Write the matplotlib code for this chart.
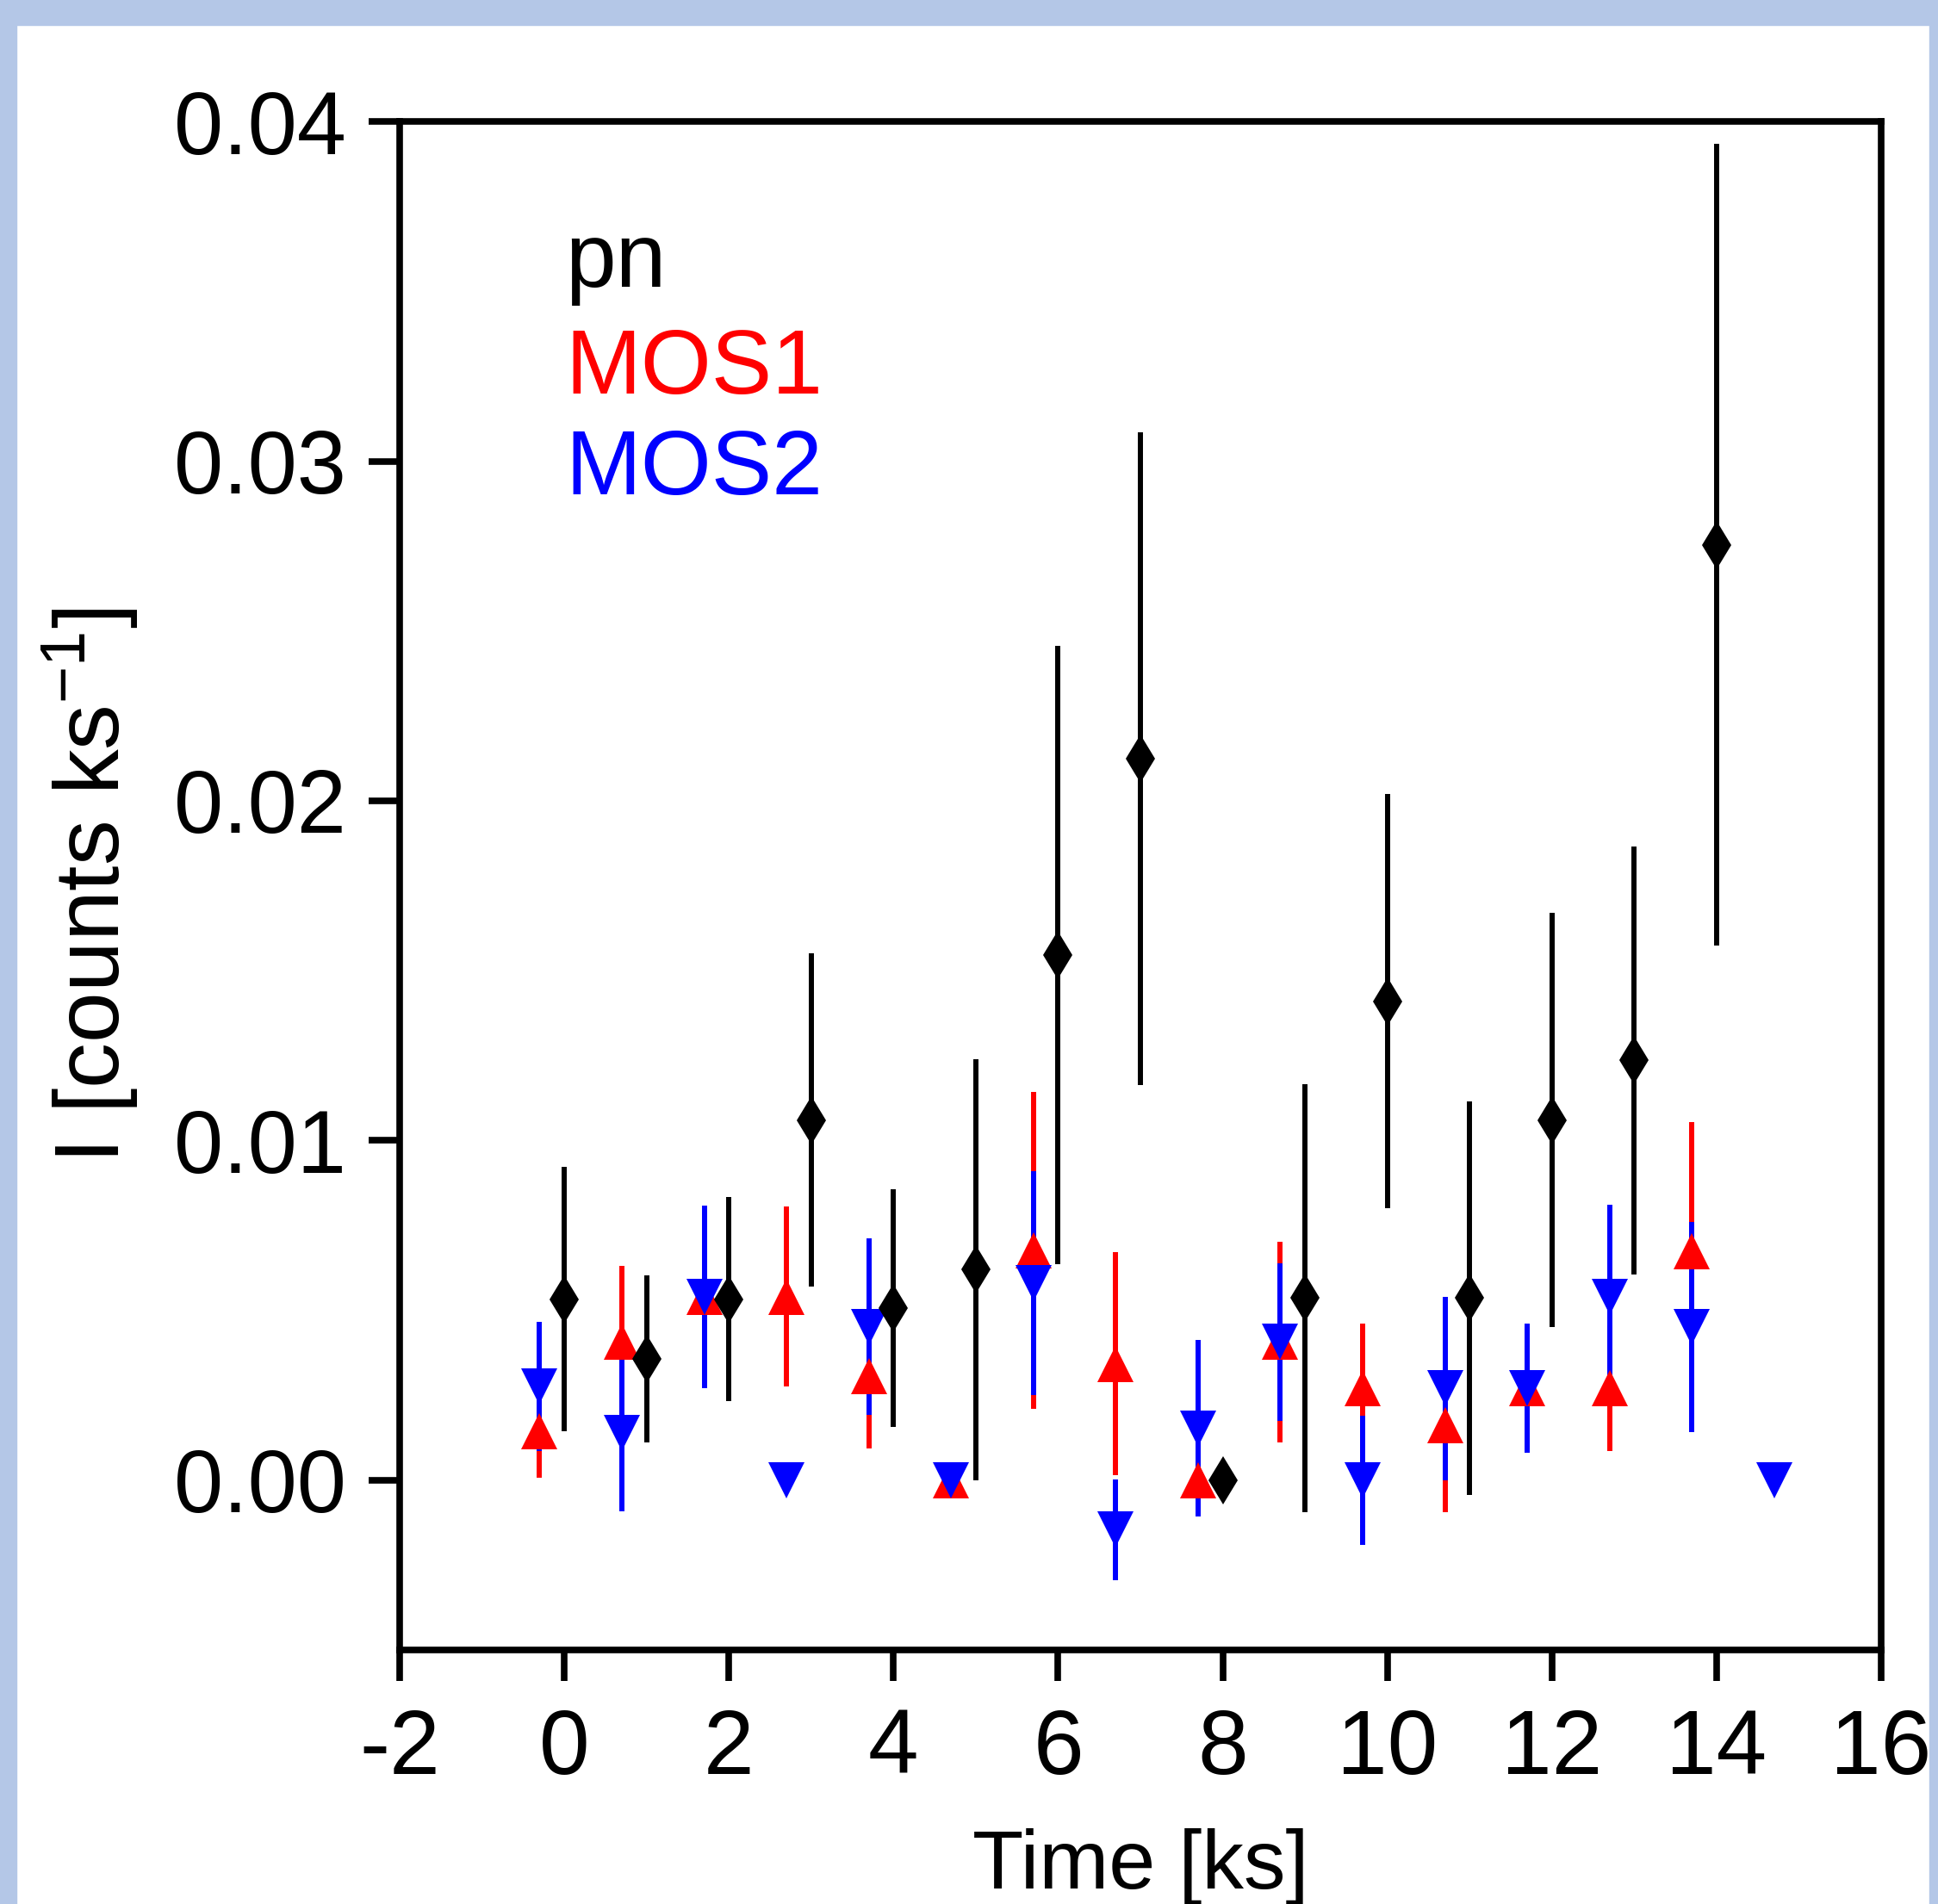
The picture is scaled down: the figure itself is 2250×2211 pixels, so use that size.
import numpy as np
import matplotlib
matplotlib.use("Agg")
import matplotlib.pyplot as plt
from matplotlib.patches import Rectangle

plt.rcParams['font.family'] = ['Liberation Sans', 'DejaVu Sans']
plt.rcParams['mathtext.fontset'] = 'custom'
plt.rcParams['mathtext.rm'] = 'Liberation Sans'
plt.rcParams['mathtext.default'] = 'regular'

# pn (black diamonds)
pn_t = [0, 1, 2, 3, 4, 5, 6, 7, 8, 9, 10, 11, 12, 13, 14]
pn_y = [0.00533, 0.00357, 0.00533, 0.0106, 0.00507, 0.0062, 0.01545, 0.02124,
        0.0, 0.00536, 0.0141, 0.00536, 0.0106, 0.01236, 0.02753]
pn_err = [0.0039, 0.00247, 0.0030, 0.0049, 0.0035, 0.0062, 0.0091, 0.0096,
          0.0, 0.0063, 0.0061, 0.0058, 0.0061, 0.0063, 0.0118]

# MOS1 (red up triangles)
mos1_t = [-0.3, 0.7, 1.7, 2.7, 3.7, 4.7, 5.7, 6.7, 7.7, 8.7, 9.7, 10.7, 11.7, 12.7, 13.7]
mos1_y = [0.00145, 0.00407, 0.0054, 0.0054, 0.00307, 0.0, 0.00676, 0.00343,
          0.0, 0.00407, 0.0027, 0.00161, 0.0027, 0.0027, 0.00673]
mos1_err = [0.00138, 0.00225, 0.0025, 0.00265, 0.00214, 0.0, 0.00467, 0.00328,
            0.0, 0.00295, 0.0019, 0.00255, 0.0018, 0.00185, 0.0038]

# MOS2 (blue down triangles)
mos2_t = [-0.3, 0.7, 1.7, 2.7, 3.7, 4.7, 5.7, 6.7, 7.7, 8.7, 9.7, 10.7, 11.7, 12.7, 13.7, 14.7]
mos2_y = [0.00275, 0.00138, 0.0054, 0.0, 0.00451, 0.0, 0.0058, -0.00146,
          0.00152, 0.00407, 0.0, 0.0027, 0.0027, 0.0054, 0.00451, 0.0]
mos2_err = [0.0019, 0.0023, 0.00268, 0.0, 0.0026, 0.0, 0.0033, 0.00148,
            0.0026, 0.00232, 0.0019, 0.0027, 0.0019, 0.0027, 0.0031, 0.0]

xticks = [-2, 0, 2, 4, 6, 8, 10, 12, 14, 16]
yticks = [0.0, 0.01, 0.02, 0.03, 0.04]
ytick_labels = ["0.00", "0.01", "0.02", "0.03", "0.04"]

fig = plt.figure(figsize=(22.5, 22.11), dpi=100)
ax = fig.add_axes([0.2062, 0.1334, 0.9707 - 0.2062, 0.9362 - 0.1334])

elw = 4.3
# bars first (red under blue), then markers
ax.errorbar(mos1_t, mos1_y, yerr=mos1_err, fmt='none', ecolor='#ff0000', elinewidth=elw, capsize=0, zorder=2)
ax.errorbar(mos2_t, mos2_y, yerr=mos2_err, fmt='none', ecolor='#0000ff', elinewidth=elw, capsize=0, zorder=3)
ax.errorbar(pn_t, pn_y, yerr=pn_err, fmt='none', ecolor='black', elinewidth=elw, capsize=0, zorder=3)
ax.plot(mos1_t, mos1_y, ls='none', marker='^', ms=30, color='#ff0000', mew=0, zorder=4)
ax.plot(mos2_t, mos2_y, ls='none', marker='v', ms=30, color='#0000ff', mew=0, zorder=5)
ax.plot(pn_t, pn_y, ls='none', marker='d', ms=28.3, color='black', mew=0, zorder=6)

ax.set_xlim(-2, 16)
ax.set_ylim(-0.005, 0.04)
ax.set_xticks(xticks)
ax.set_xticklabels([str(v) for v in xticks])
ax.set_yticks(yticks)
ax.set_yticklabels(ytick_labels)

for s in ax.spines.values():
    s.set_linewidth(5.5)
ax.tick_params(axis='both', direction='out', length=26, width=5.5)
ax.tick_params(axis='x', pad=22, labelsize=76)
ax.tick_params(axis='y', pad=19, labelsize=74)

ax.set_xlabel('Time [ks]', fontsize=70, labelpad=30)
ax.set_ylabel('I [counts ks$^{-1}$]', fontsize=76, labelpad=28)

ax.text(0.112, 0.892, 'pn', color='black', fontsize=76, transform=ax.transAxes, va='baseline')
ax.text(0.112, 0.822, 'MOS1', color='#ff0000', fontsize=76, transform=ax.transAxes, va='baseline')
ax.text(0.112, 0.756, 'MOS2', color='#0000ff', fontsize=76, transform=ax.transAxes, va='baseline')

# light blue frame
bc = '#b4c7e7'
W, H = 2250.0, 2211.0
fig.add_artist(Rectangle((0, 1 - 29 / H), 1, 29 / H, transform=fig.transFigure, color=bc, zorder=10))
fig.add_artist(Rectangle((0, 0), 19 / W, 1, transform=fig.transFigure, color=bc, zorder=10))
fig.add_artist(Rectangle((1 - 10 / W, 0), 10 / W, 1, transform=fig.transFigure, color=bc, zorder=10))

fig.savefig('out.png', dpi=100, facecolor='white')
